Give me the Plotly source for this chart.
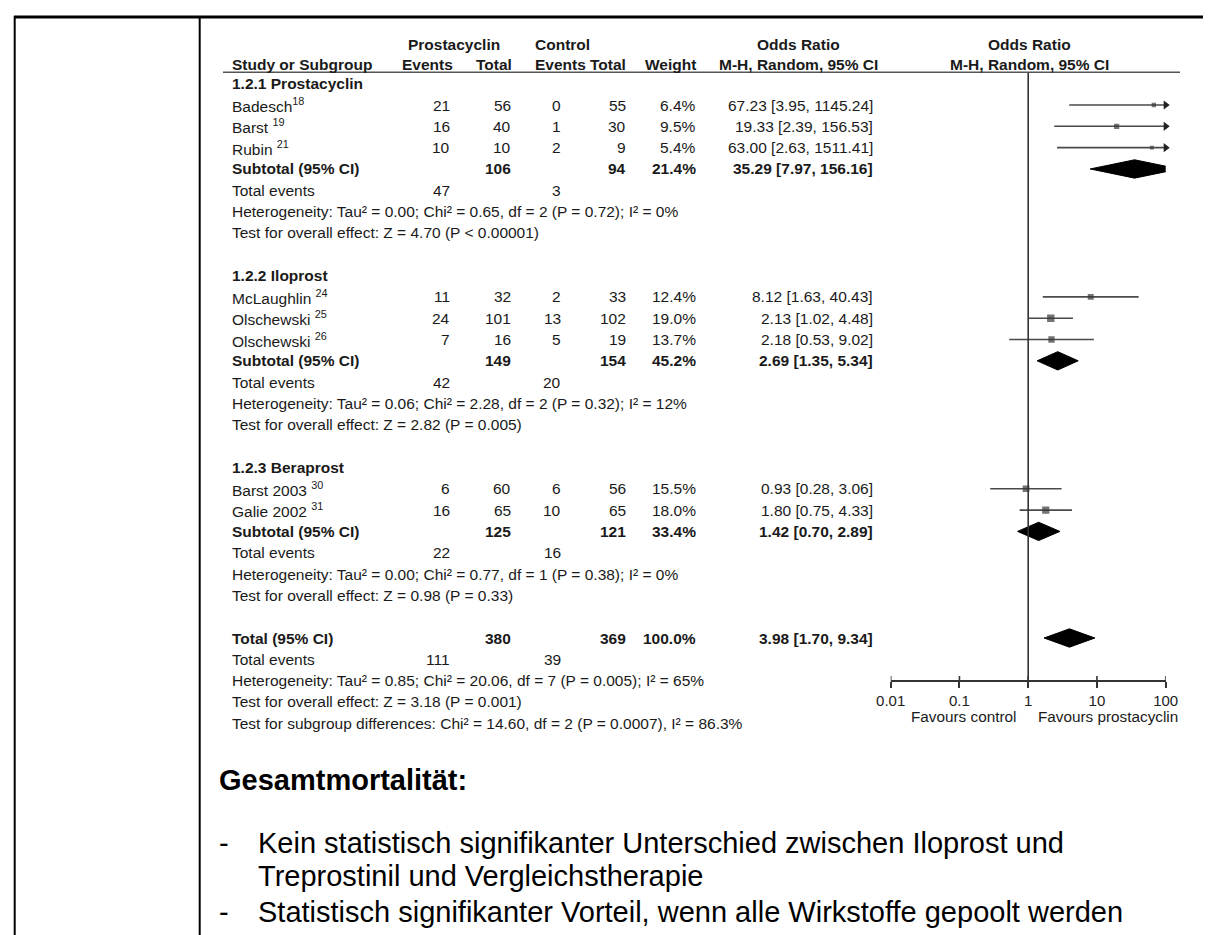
import plotly.graph_objects as go

W, H = 1211, 935

# ---------------- data ----------------
study_names = ["Badesch", "Barst", "Rubin", "McLaughlin", "Olschewski", "Olschewski", "Barst 2003", "Galie 2002"]
study_refs = ["18", "19", "21", "24", "25", "26", "30", "31"]
study_ref_gap = ["", " ", " ", " ", " ", " ", " ", " "]
study_group = [0, 0, 0, 1, 1, 1, 2, 2]
exp_events = [21, 16, 10, 11, 24, 7, 6, 16]
exp_total = [56, 40, 10, 32, 101, 16, 60, 65]
ctl_events = [0, 1, 2, 2, 13, 5, 6, 10]
ctl_total = [55, 30, 9, 33, 102, 19, 56, 65]
weights = [6.4, 9.5, 5.4, 12.4, 19.0, 13.7, 15.5, 18.0]
or_est = [67.23, 19.33, 63.00, 8.12, 2.13, 2.18, 0.93, 1.80]
or_lo = [3.95, 2.39, 2.63, 1.63, 1.02, 0.53, 0.28, 0.75]
or_hi = [1145.24, 156.53, 1511.41, 40.43, 4.48, 9.02, 3.06, 4.33]

group_names = ["1.2.1 Prostacyclin", "1.2.2 Iloprost", "1.2.3 Beraprost"]
sub_exp_total = [106, 149, 125]
sub_ctl_total = [94, 154, 121]
sub_weight = [21.4, 45.2, 33.4]
sub_est = [35.29, 2.69, 1.42]
sub_lo = [7.97, 1.35, 0.70]
sub_hi = [156.16, 5.34, 2.89]
sub_exp_events = [47, 42, 22]
sub_ctl_events = [3, 20, 16]
sub_het = [
    "Heterogeneity: Tau² = 0.00; Chi² = 0.65, df = 2 (P = 0.72); I² = 0%",
    "Heterogeneity: Tau² = 0.06; Chi² = 2.28, df = 2 (P = 0.32); I² = 12%",
    "Heterogeneity: Tau² = 0.00; Chi² = 0.77, df = 1 (P = 0.38); I² = 0%",
]
sub_test = [
    "Test for overall effect: Z = 4.70 (P &lt; 0.00001)",
    "Test for overall effect: Z = 2.82 (P = 0.005)",
    "Test for overall effect: Z = 0.98 (P = 0.33)",
]

tot_exp_total = 380
tot_ctl_total = 369
tot_weight = 100.0
tot_est, tot_lo, tot_hi = 3.98, 1.70, 9.34
tot_exp_events = 111
tot_ctl_events = 39
tot_het = "Heterogeneity: Tau² = 0.85; Chi² = 20.06, df = 7 (P = 0.005); I² = 65%"
tot_test = "Test for overall effect: Z = 3.18 (P = 0.001)"
tot_subgroup = "Test for subgroup differences: Chi² = 14.60, df = 2 (P = 0.0007), I² = 86.3%"

tick_vals = [0.01, 0.1, 1, 10, 100]
tick_text = ["0.01", "0.1", "1", "10", "100"]

heading = "Gesamtmortalität:"
bullets = [
    ["Kein statistisch signifikanter Unterschied zwischen Iloprost und",
     "Treprostinil und Vergleichstherapie"],
    ["Statistisch signifikanter Vorteil, wenn alle Wirkstoffe gepoolt werden"],
]

# ---------------- layout constants ----------------
FONT = "Liberation Sans, Arial, Helvetica, sans-serif"
FS = 15.5
TXT = "#1a1a1a"
ROW0 = 97.0     # pixel y of first study row
PITCH = 21.32   # pixels per row
AX_MIN, AX_MAX = 0.01, 100
X_LEFT_PX, X_RIGHT_PX = 882.7, 1157.7
AXIS_PX = 673

def prow(px):
    return (px - ROW0) / PITCH

COL_NAME = 222
COL_EV1 = 444
COL_TOT1 = 505
COL_EV2 = 555
COL_TOT2 = 620
COL_W = 690
COL_OR = 867

fig = go.Figure()

def txt(xpx, r, s, anchor="left", bold=False, size=FS, color=TXT):
    if bold:
        s = "<b>" + s + "</b>"
    fig.add_annotation(x=xpx / W, xref="paper", y=r, yref="y", text=s,
                       xanchor=anchor, yanchor="middle", showarrow=False,
                       font=dict(family=FONT, size=size, color=color))

def fmt_or(e, l, h):
    return f"{e:.2f} [{l:.2f}, {h:.2f}]"

# header
r_h1, r_h2 = prow(36.7), prow(56.7)
txt(446, r_h1, "Prostacyclin", "center", True)
txt(554, r_h1, "Control", "center", True)
txt(790, r_h1, "Odds Ratio", "center", True)
txt(1021, r_h1, "Odds Ratio", "center", True)
txt(COL_NAME, r_h2, "Study or Subgroup", "left", True)
txt(COL_EV1 + 3, r_h2, "Events", "right", True)
txt(COL_TOT1 + 1, r_h2, "Total", "right", True)
txt(580, r_h2, "Events", "right", True)
txt(COL_TOT2, r_h2, "Total", "right", True)
txt(COL_W, r_h2, "Weight", "right", True)
txt(790, r_h2, "M-H, Random, 95% CI", "center", True)
txt(1021, r_h2, "M-H, Random, 95% CI", "center", True)

# rows
study_rows = []
sub_rows = []
r = -1
for g in range(len(group_names)):
    txt(COL_NAME, r, group_names[g], bold=True)
    r += 1
    for i in range(len(study_names)):
        if study_group[i] != g:
            continue
        study_rows.append(r)
        txt(COL_NAME, r, f"{study_names[i]}{study_ref_gap[i]}<sup>{study_refs[i]}</sup>")
        txt(COL_EV1, r, str(exp_events[i]), "right")
        txt(COL_TOT1, r, str(exp_total[i]), "right")
        txt(COL_EV2, r, str(ctl_events[i]), "right")
        txt(COL_TOT2, r, str(ctl_total[i]), "right")
        txt(COL_W, r, f"{weights[i]:.1f}%", "right")
        txt(COL_OR, r, fmt_or(or_est[i], or_lo[i], or_hi[i]), "right")
        r += 1
    sub_rows.append(r)
    txt(COL_NAME, r, "Subtotal (95% CI)", bold=True)
    txt(COL_TOT1, r, str(sub_exp_total[g]), "right", True)
    txt(COL_TOT2, r, str(sub_ctl_total[g]), "right", True)
    txt(COL_W, r, f"{sub_weight[g]:.1f}%", "right", True)
    txt(COL_OR, r, fmt_or(sub_est[g], sub_lo[g], sub_hi[g]), "right", True)
    r += 1
    txt(COL_NAME, r, "Total events")
    txt(COL_EV1, r, str(sub_exp_events[g]), "right")
    txt(COL_EV2, r, str(sub_ctl_events[g]), "right")
    r += 1
    txt(COL_NAME, r, sub_het[g])
    r += 1
    txt(COL_NAME, r, sub_test[g])
    r += 2

tot_row = r
txt(COL_NAME, r, "Total (95% CI)", bold=True)
txt(COL_TOT1, r, str(tot_exp_total), "right", True)
txt(COL_TOT2, r, str(tot_ctl_total), "right", True)
txt(COL_W, r, f"{tot_weight:.1f}%", "right", True)
txt(COL_OR, r, fmt_or(tot_est, tot_lo, tot_hi), "right", True)
r += 1
txt(COL_NAME, r, "Total events")
txt(COL_EV1, r, str(tot_exp_events), "right")
txt(COL_EV2, r, str(tot_ctl_events), "right")
r += 1
txt(COL_NAME, r, tot_het)
r += 1
txt(COL_NAME, r, tot_test)
r += 1
txt(COL_NAME, r, tot_subgroup)

# favours labels
r_fav = prow(708)
txt(1010, r_fav, "Favours control", "right", size=15.3)
txt(1028, r_fav, "Favours prostacyclin", "left", size=15.3)

# ---------------- forest marks ----------------
LINE_C = "#4a4a4a"
ci_x, ci_y = [], []
arrow_x, arrow_y = [], []
for i, rr in enumerate(study_rows):
    ci_x += [max(or_lo[i], AX_MIN), min(or_hi[i], AX_MAX), None]
    ci_y += [rr, rr, None]
    if or_hi[i] > AX_MAX:
        arrow_x.append(AX_MAX)
        arrow_y.append(rr)
fig.add_trace(go.Scatter(x=ci_x, y=ci_y, mode="lines",
                         line=dict(color=LINE_C, width=1.6), hoverinfo="skip"))
fig.add_trace(go.Scatter(x=arrow_x, y=arrow_y, mode="markers", cliponaxis=False,
                         marker=dict(symbol="triangle-right", size=8, color="#222"),
                         hoverinfo="skip"))
fig.add_trace(go.Scatter(x=or_est, y=study_rows, mode="markers",
                         marker=dict(symbol="square", color="#383838",
                                     size=[1.7 * w ** 0.5 for w in weights],
                                     line=dict(width=0)),
                         hoverinfo="skip"))

HALF = 0.43
for est, lo, hi, rr in list(zip(sub_est, sub_lo, sub_hi, sub_rows)) + [(tot_est, tot_lo, tot_hi, tot_row)]:
    fig.add_trace(go.Scatter(x=[lo, est, hi, est, lo], y=[rr, rr - HALF, rr, rr + HALF, rr],
                             mode="lines", fill="toself", fillcolor="#000",
                             line=dict(color="#000", width=1), hoverinfo="skip"))

r_axis = prow(AXIS_PX)
r_under = prow(64.3)
# line of no effect
fig.add_trace(go.Scatter(x=[1, 1], y=[r_under, r_axis], mode="lines",
                         line=dict(color="#333", width=1.6), hoverinfo="skip"))
# upward ticks
tx, ty = [], []
for v in tick_vals:
    tx += [v, v, None]
    ty += [r_axis, r_axis - 5 / PITCH, None]
fig.add_trace(go.Scatter(x=tx, y=ty, mode="lines", cliponaxis=False,
                         line=dict(color="#333", width=1.6), hoverinfo="skip"))

# header underline and frame
fig.add_shape(type="line", xref="paper", yref="y", x0=215 / W, x1=1172 / W,
              y0=r_under, y1=r_under, line=dict(color="#555", width=1.5))
fig.add_shape(type="line", xref="paper", yref="paper", x0=6 / W, x1=1,
              y0=1 - 9 / H, y1=1 - 9 / H, line=dict(color="#000", width=3))
fig.add_shape(type="line", xref="paper", yref="paper", x0=6.7 / W, x1=6.7 / W,
              y0=0, y1=1 - 8 / H, line=dict(color="#000", width=2))
fig.add_shape(type="line", xref="paper", yref="paper", x0=191.7 / W, x1=191.7 / W,
              y0=0, y1=1 - 8 / H, line=dict(color="#000", width=2))

# bottom text
BFS = 29
fig.add_annotation(x=209 / W, xref="paper", y=1 - 772 / H, yref="paper",
                   text="<b>" + heading + "</b>", xanchor="left", yanchor="middle",
                   showarrow=False, font=dict(family=FONT, size=BFS, color="#000"))
line_px = [[835, 868], [904]]
for b, lines in enumerate(bullets):
    fig.add_annotation(x=209 / W, xref="paper", y=1 - line_px[b][0] / H, yref="paper",
                       text="-", xanchor="left", yanchor="middle", showarrow=False,
                       font=dict(family=FONT, size=BFS, color="#000"))
    for k, s in enumerate(lines):
        fig.add_annotation(x=248 / W, xref="paper", y=1 - line_px[b][k] / H, yref="paper",
                           text=s, xanchor="left", yanchor="middle", showarrow=False,
                           font=dict(family=FONT, size=BFS, color="#000"))

fig.update_layout(
    width=W, height=H, autosize=False,
    margin=dict(l=0, r=0, t=0, b=0),
    paper_bgcolor="white", plot_bgcolor="rgba(0,0,0,0)",
    showlegend=False, template="none",
    xaxis=dict(type="log", range=[-2, 2], domain=[X_LEFT_PX / W, X_RIGHT_PX / W],
               anchor="free", position=1 - AXIS_PX / H,
               showline=True, linecolor="#333", linewidth=1.6,
               ticks="outside", ticklen=6, tickwidth=1.6, tickcolor="#333",
               tickvals=tick_vals, ticktext=tick_text,
               tickfont=dict(family=FONT, size=15, color="#222"),
               showgrid=False, zeroline=False, fixedrange=True),
    yaxis=dict(range=[prow(H), prow(0)], domain=[0, 1], visible=False,
               showgrid=False, zeroline=False, fixedrange=True),
)

fig.write_html("out.html")
